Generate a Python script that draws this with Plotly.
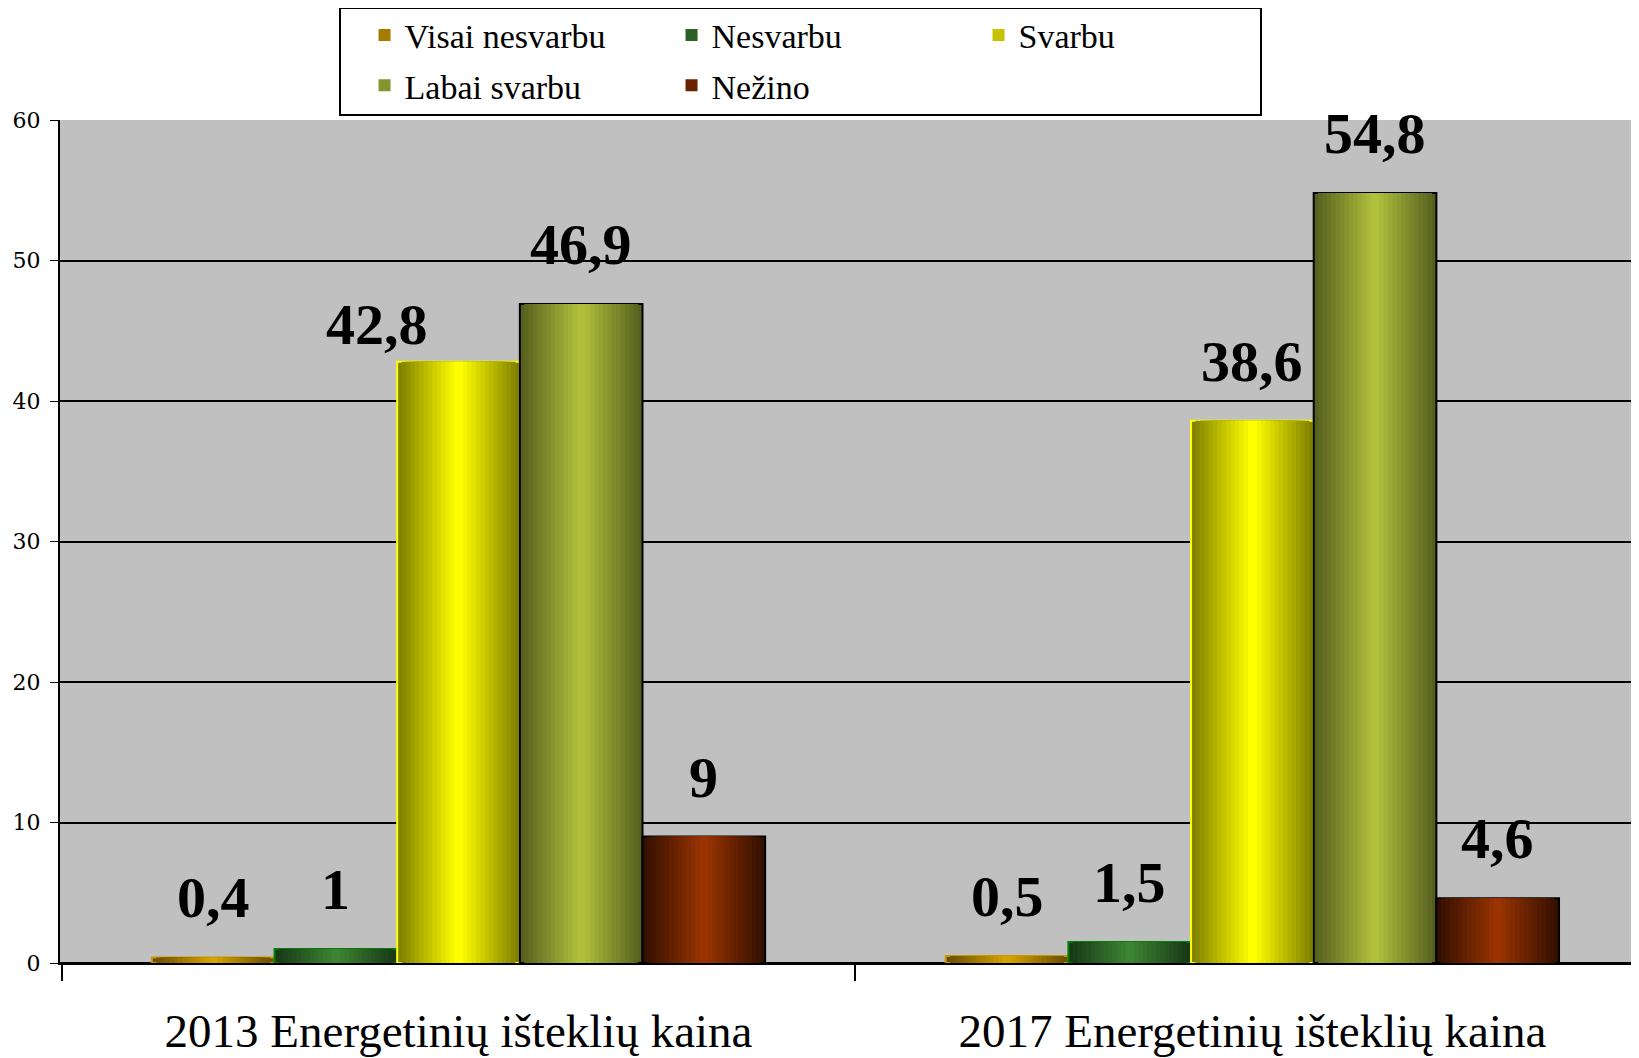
import plotly.graph_objects as go

# ---------------- data ----------------
categories = ["2013 Energetinių išteklių kaina", "2017 Energetinių išteklių kaina"]
series_names = ["Visai nesvarbu", "Nesvarbu", "Svarbu", "Labai svarbu", "Nežino"]
visai_nesvarbu = [0.4, 0.5]
nesvarbu = [1.0, 1.5]
svarbu = [42.8, 38.6]
labai_svarbu = [46.9, 54.8]
nezino = [9.0, 4.6]
y_ticks = [0, 10, 20, 30, 40, 50, 60]

series_values = [visai_nesvarbu, nesvarbu, svarbu, labai_svarbu, nezino]

# ---------------- style ----------------
edge_colors = [(0x6B, 0x4E, 0x00), (0x18, 0x38, 0x18), (0x80, 0x80, 0x00), (0x55, 0x60, 0x1E), (0x33, 0x10, 0x00)]
center_colors = [(0xD6, 0xA2, 0x00), (0x3C, 0x84, 0x32), (0xFF, 0xFF, 0x00), (0xB0, 0xC0, 0x3C), (0x99, 0x33, 0x00)]
outline_colors = ["#C89600", "#008000", "#FFFF00", "#000000", "#000000"]

SERIF = "Liberation Serif"
N_LAYERS = 14
BAR_W = 0.1545


def lerp(c1, c2, t):
    return "rgb(%d,%d,%d)" % tuple(round(a + (b - a) * t) for a, b in zip(c1, c2))


def fmt(v):
    s = ("%g" % v)
    return s.replace(".", ",")


fig = go.Figure()

for i, (name, vals) in enumerate(zip(series_names, series_values)):
    base_off = -2.5 * BAR_W + i * BAR_W
    legend_id = "legend" if i < 3 else "legend2"
    legend_layer = N_LAYERS // 2
    for k in range(N_LAYERS):
        f = 1 - k / N_LAYERS
        t = k / (N_LAYERS - 1)
        w = BAR_W * f
        off = base_off + (BAR_W - w) / 2
        fig.add_trace(go.Bar(
            x=[0, 1], y=vals,
            name=name,
            width=[w, w],
            offset=[off, off],
            marker=dict(color=lerp(edge_colors[i], center_colors[i], t),
                        line=dict(color=outline_colors[i], width=2 if k == 0 else 0)),
            showlegend=(k == legend_layer),
            legend=legend_id,
            hoverinfo="skip" if k else None,
        ))

# value labels
DEFAULT_SHIFT = 25
label_overrides = {(2, 0): dict(xshift=-82, yshift=3)}
annotations = []
for i, vals in enumerate(series_values):
    center_off = -2.0 * BAR_W + i * BAR_W
    for ci, v in enumerate(vals):
        ov = label_overrides.get((i, ci), {})
        annotations.append(dict(
            x=ci + center_off, y=v, xref="x", yref="y",
            text="<b>%s</b>" % fmt(v), showarrow=False,
            yanchor="bottom", xanchor="center",
            yshift=ov.get("yshift", DEFAULT_SHIFT), xshift=ov.get("xshift", 0),
            font=dict(family=SERIF, size=58, color="black"),
        ))

legend_common = dict(orientation="h", xref="container", yref="container",
                     xanchor="left", yanchor="middle",
                     entrywidth=262, entrywidthmode="pixels",
                     font=dict(family=SERIF, size=34, color="black"),
                     bgcolor="rgba(0,0,0,0)", traceorder="normal")

fig.update_layout(
    width=1631, height=1050,
    margin=dict(l=52, r=0, t=112, b=95, autoexpand=False),
    paper_bgcolor="white",
    plot_bgcolor="#C0C0C0",
    barmode="overlay",
    annotations=annotations,
    font=dict(family=SERIF, color="black"),
    legend=dict(x=0.2186, y=0.974, **legend_common),
    legend2=dict(x=0.2186, y=0.926, **legend_common),
    shapes=[dict(type="rect", xref="paper", yref="paper",
                 x0=(340 - 60) / 1579, x1=(1261 - 60) / 1579,
                 y0=(963 - 115) / 843, y1=(963 - 8) / 843,
                 line=dict(color="black", width=2), fillcolor="rgba(0,0,0,0)")],
)

fig.update_xaxes(
    automargin=False,
    range=[-0.502, 1.487],
    tickvals=[0, 1], ticktext=categories,
    ticks="", showgrid=False, zeroline=False,
    showline=True, linecolor="black", linewidth=2,
    tickfont=dict(family=SERIF, size=47, color="black"),
    ticklabelstandoff=26,
    minor=dict(tickvals=[-0.5, 0.5, 1.5], ticks="outside", ticklen=16,
               tickcolor="black", tickwidth=1.5, showgrid=False),
)

fig.update_yaxes(
    automargin=False,
    range=[0, 60], tickvals=y_ticks,
    ticks="outside", ticklen=8, tickcolor="black", tickwidth=1,
    showgrid=False,
    zeroline=True, zerolinecolor="black", zerolinewidth=3,
    showline=True, linecolor="black", linewidth=2,
    tickfont=dict(family="DejaVu Serif", size=22, color="black"),
    ticklabelstandoff=5,
    minor=dict(tickvals=[10, 20, 30, 40, 50], showgrid=True,
               gridcolor="black", gridwidth=1.5, ticks=""),
)

fig.write_html("out.html")
